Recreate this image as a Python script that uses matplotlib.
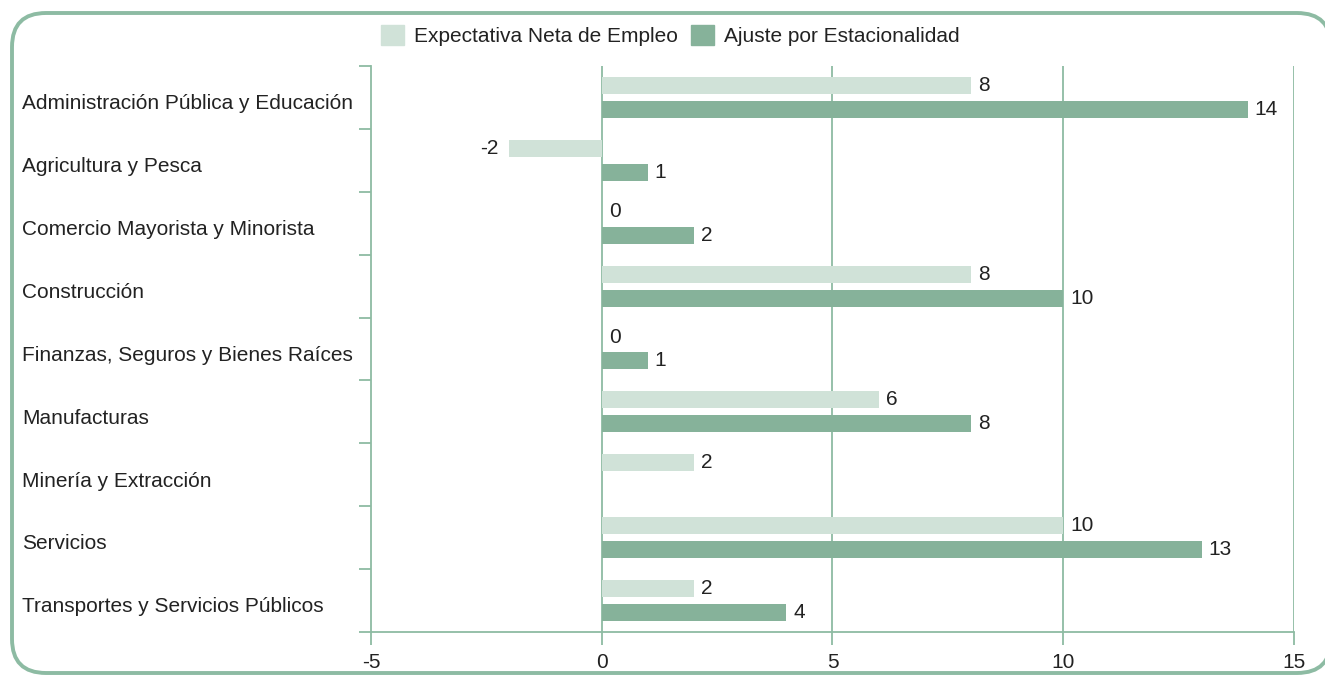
import matplotlib.pyplot as plt
import numpy as np
from matplotlib.patches import FancyBboxPatch, Patch
from matplotlib.transforms import blended_transform_factory, IdentityTransform

plt.rcParams['font.family'] = ['Liberation Sans', 'DejaVu Sans']

sectores = ['Administración Pública y Educación', 'Agricultura y Pesca',
            'Comercio Mayorista y Minorista', 'Construcción',
            'Finanzas, Seguros y Bienes Raíces', 'Manufacturas',
            'Minería y Extracción', 'Servicios',
            'Transportes y Servicios Públicos']
neta = [8, -2, 0, 8, 0, 6, 2, 10, 2]
ajuste = [14, 1, 2, 10, 1, 8, np.nan, 13, 4]

c_light = '#d0e2d8'
c_dark = '#86b29a'
c_line = '#8dbba3'
c_text = '#222222'

fig = plt.figure(figsize=(13.25, 6.75), dpi=100)
ax = fig.add_axes([0.28, 0.0637, 0.6966, 0.8385])

# marco redondeado (en pixeles), el borde derecho queda fuera de la imagen
# relleno blanco para que Agg no recorte mal las curvas
marco = FancyBboxPatch((12, 675 - 673), 1331 - 12, 673 - 13,
                       boxstyle='round,pad=0,rounding_size=34',
                       transform=IdentityTransform(), fc='white',
                       ec=c_line, lw=2.8, zorder=-1)
fig.patches.append(marco)

y = np.arange(len(sectores))
h = 0.27
ax.barh(y - 0.19, neta, height=h, color=c_light, zorder=3)
ax.barh(y + 0.19, ajuste, height=h, color=c_dark, zorder=3)

for yi, v in zip(y - 0.19, neta):
    if v < 0:
        ax.annotate(str(v), (v, yi), xytext=(-8, 0), textcoords='offset points',
                    ha='right', va='center', fontsize=15, color=c_text)
    else:
        ax.annotate(str(v), (v, yi), xytext=(5, 0), textcoords='offset points',
                    ha='left', va='center', fontsize=15, color=c_text)
for yi, v in zip(y + 0.19, ajuste):
    if np.isnan(v):
        continue
    ax.annotate(str(int(v)), (v, yi), xytext=(5, 0), textcoords='offset points',
                ha='left', va='center', fontsize=15, color=c_text)

ax.set_xlim(-5, 15)
ax.set_ylim(8.5, -0.5)
ax.set_xticks([-5, 0, 5, 10, 15])
ax.set_xticklabels(['-5', '0', '5', '10', '15'])
ax.set_yticks(np.arange(-0.5, 9, 1))
ax.set_yticklabels([])
ax.tick_params(axis='both', color=c_line, length=9, width=1.3,
               labelsize=15, labelcolor=c_text)
ax.tick_params(axis='x', pad=6)

for v in [0, 5, 10, 15]:
    ax.axvline(v, color=c_line, lw=1.3, zorder=2)

for s in ['top', 'right']:
    ax.spines[s].set_visible(False)
for s in ['left', 'bottom']:
    ax.spines[s].set_color(c_line)
    ax.spines[s].set_linewidth(1.3)

trans = blended_transform_factory(fig.transFigure, ax.transData)
for yi, nombre in zip(y, sectores):
    ax.text(22/1325, yi + 0.1, nombre, transform=trans, ha='left', va='center',
            fontsize=15, color=c_text)

handles = [Patch(color=c_light, label='Expectativa Neta de Empleo'),
           Patch(color=c_dark, label='Ajuste por Estacionalidad')]
fig.legend(handles=handles, loc='center', bbox_to_anchor=(0.506, 0.948),
           ncol=2, frameon=False, fontsize=15, handlelength=1.1,
           handleheight=1.1, handletextpad=0.5, columnspacing=0.6,
           labelcolor=c_text)

fig.savefig('out.png', dpi=100)
